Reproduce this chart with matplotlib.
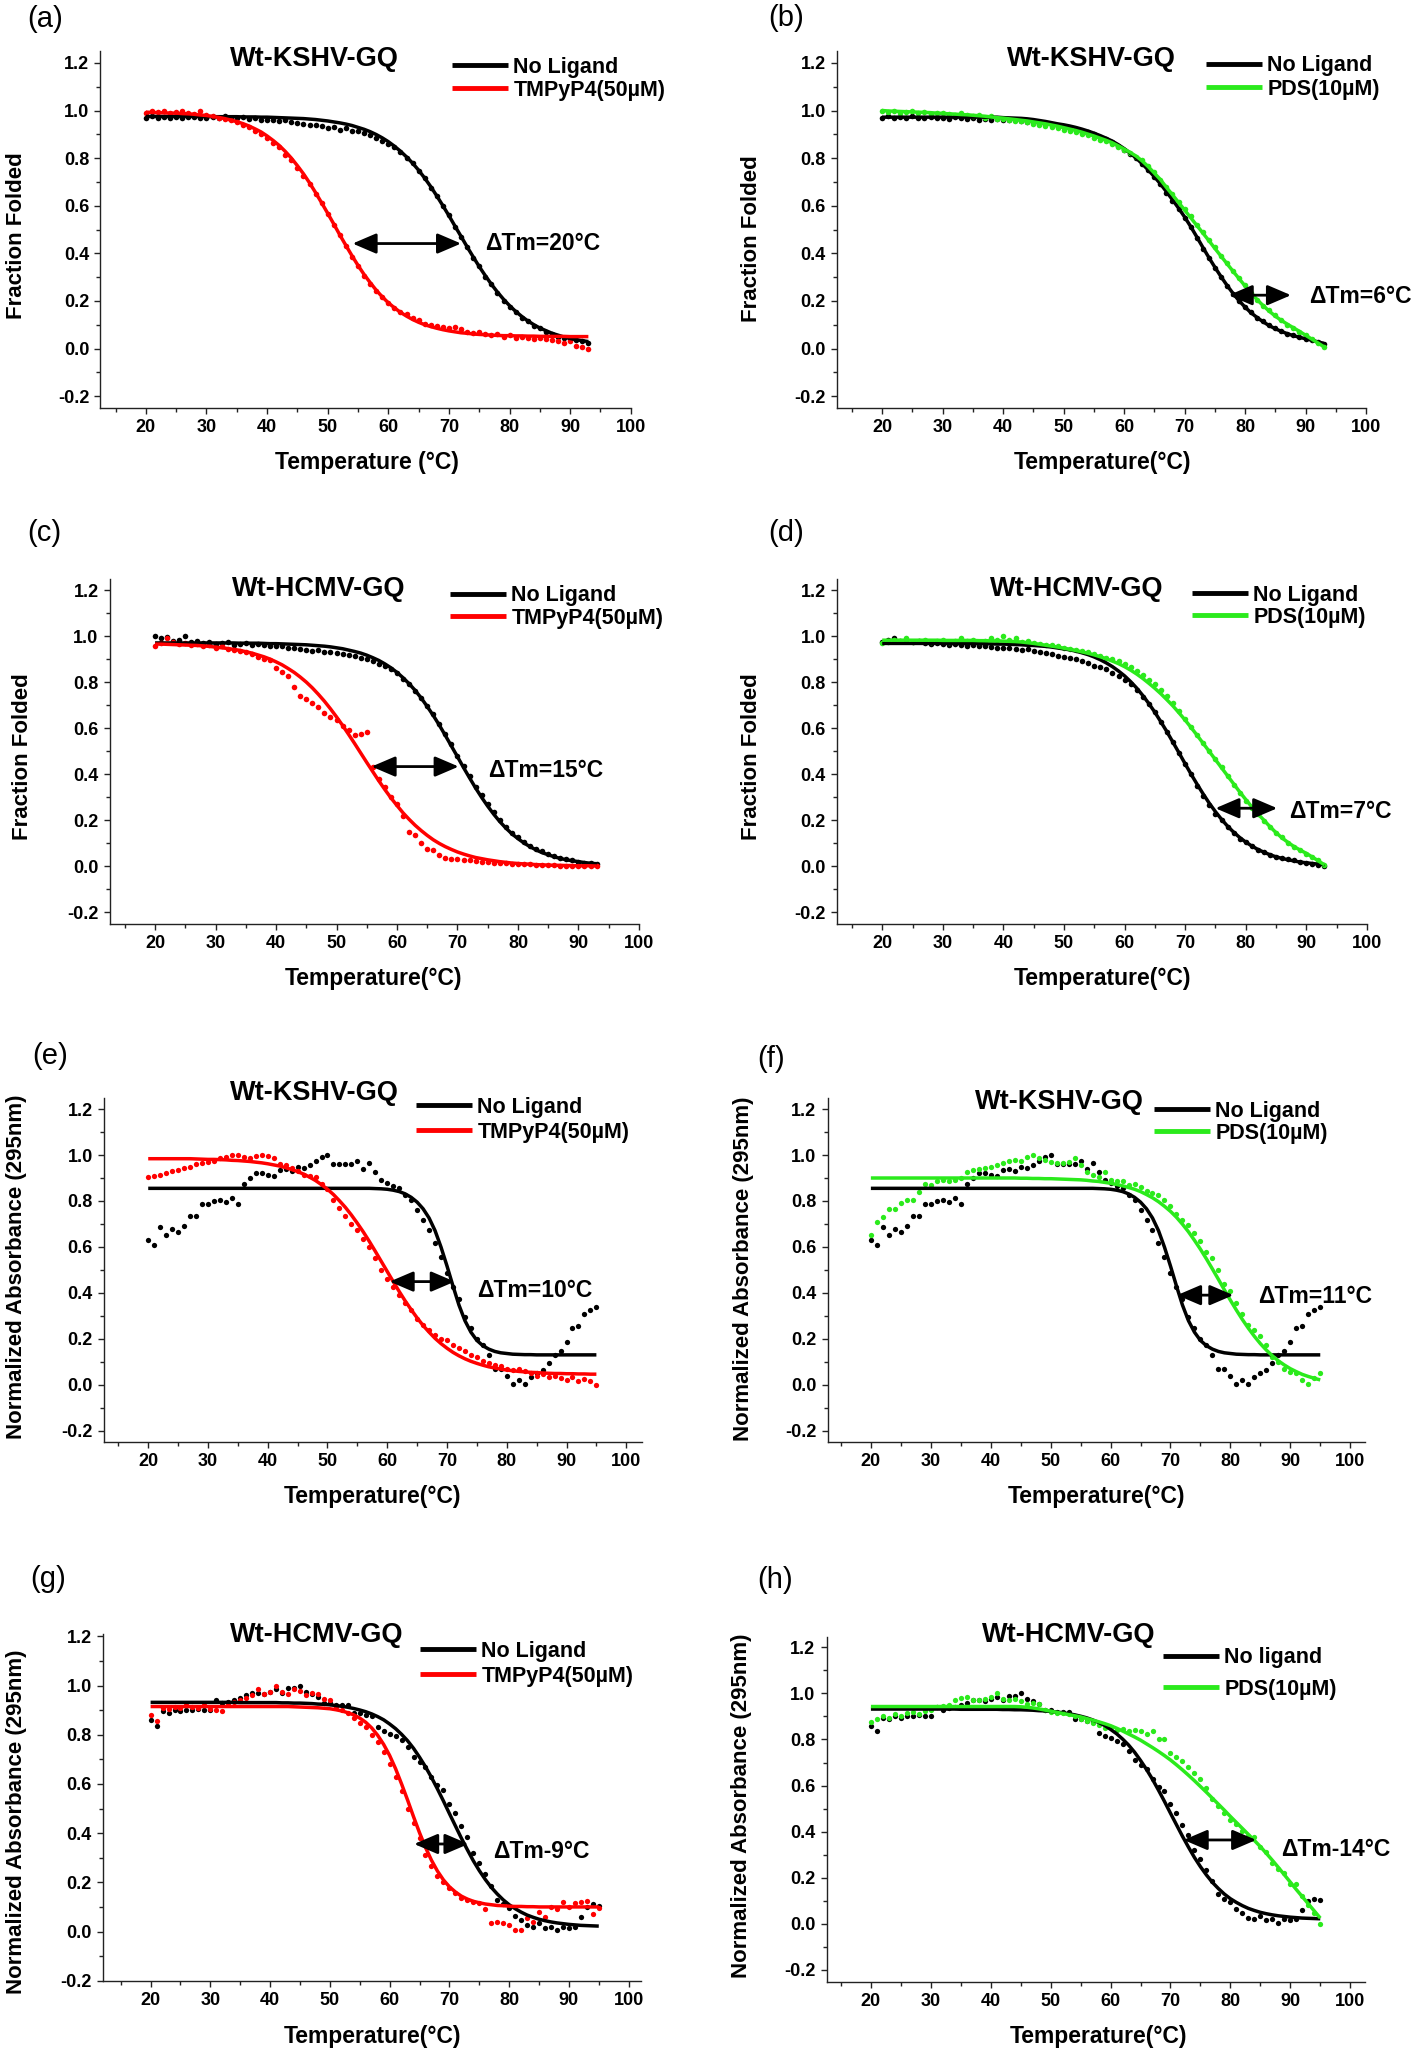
import matplotlib
matplotlib.use('Agg')
import matplotlib.pyplot as plt
from matplotlib.patches import ArrowStyle

plt.rcParams['font.family'] = ['Liberation Sans', 'DejaVu Sans']
plt.rcParams['axes.linewidth'] = 1.0

# ---------------- data ----------------
temps_cd = list(range(20, 94))     # CD panels (a)-(d): 20..93 C
temps_uv = list(range(20, 96))     # UV panels (e)-(h): 20..95 C

x_major = [20, 30, 40, 50, 60, 70, 80, 90, 100]
x_minor = [15, 25, 35, 45, 55, 65, 75, 85, 95]
y_major = [-0.2, 0.0, 0.2, 0.4, 0.6, 0.8, 1.0, 1.2]
y_major_labels = ['-0.2', '0.0', '0.2', '0.4', '0.6', '0.8', '1.0', '1.2']
y_minor = [-0.1, 0.1, 0.3, 0.5, 0.7, 0.9, 1.1]

# (a) KSHV, TMPyP4
a_black_fit = [0.975, 0.975, 0.975, 0.975, 0.975, 0.975, 0.975, 0.975, 0.975, 0.975,
               0.974, 0.974, 0.974, 0.974, 0.974, 0.974, 0.973, 0.973, 0.973, 0.972,
               0.972, 0.971, 0.970, 0.969, 0.968, 0.967, 0.966, 0.964, 0.962, 0.959,
               0.956, 0.952, 0.948, 0.943, 0.937, 0.929, 0.921, 0.911, 0.899, 0.885,
               0.869, 0.850, 0.829, 0.805, 0.779, 0.749, 0.716, 0.680, 0.641, 0.600,
               0.558, 0.514, 0.471, 0.427, 0.385, 0.344, 0.306, 0.270, 0.237, 0.207,
               0.180, 0.156, 0.135, 0.116, 0.100, 0.086, 0.075, 0.064, 0.056, 0.048,
               0.042, 0.037, 0.033, 0.029]
a_black_pts = [0.97, 0.975, 0.968, 0.972, 0.97, 0.974, 0.969, 0.971, 0.973, 0.97,
               0.968, 0.972, 0.97, 0.975, 0.966, 0.97, 0.973, 0.965, 0.968, 0.962,
               0.96, 0.962, 0.955, 0.958, 0.95, 0.948, 0.945, 0.94, 0.938, 0.935,
               0.925, 0.93, 0.92, 0.925, 0.915, 0.912, 0.905, 0.895, 0.885, 0.872,
               0.86, 0.845, 0.825, 0.8, 0.78, 0.745, 0.715, 0.675, 0.64, 0.6,
               0.56, 0.51, 0.47, 0.425, 0.38, 0.345, 0.3, 0.27, 0.235, 0.2,
               0.175, 0.155, 0.13, 0.115, 0.095, 0.085, 0.07, 0.062, 0.05, 0.045,
               0.04, 0.035, 0.03, 0.025]
a_red_fit = [0.993, 0.992, 0.991, 0.990, 0.989, 0.989, 0.987, 0.986, 0.984, 0.981,
             0.979, 0.975, 0.971, 0.966, 0.960, 0.953, 0.945, 0.935, 0.923, 0.910,
             0.893, 0.874, 0.853, 0.828, 0.800, 0.768, 0.734, 0.696, 0.655, 0.612,
             0.568, 0.523, 0.477, 0.433, 0.390, 0.349, 0.311, 0.277, 0.245, 0.217,
             0.192, 0.171, 0.152, 0.136, 0.122, 0.110, 0.100, 0.092, 0.085, 0.079,
             0.074, 0.070, 0.066, 0.064, 0.061, 0.059, 0.058, 0.056, 0.055, 0.054,
             0.054, 0.053, 0.053, 0.052, 0.052, 0.051, 0.051, 0.051, 0.051, 0.051,
             0.050, 0.050, 0.050, 0.050]
a_red_pts = [0.99, 1.0, 0.995, 1.0, 0.99, 0.995, 1.0, 0.99, 0.985, 1.0,
             0.98, 0.975, 0.97, 0.965, 0.96, 0.95, 0.94, 0.93, 0.915, 0.9,
             0.885, 0.865, 0.845, 0.815, 0.79, 0.76, 0.725, 0.69, 0.65, 0.61,
             0.565, 0.52, 0.475, 0.43, 0.385, 0.345, 0.305, 0.27, 0.24, 0.215,
             0.19, 0.17, 0.155, 0.145, 0.13, 0.12, 0.105, 0.1, 0.095, 0.09,
             0.085, 0.09, 0.08, 0.07, 0.065, 0.07, 0.06, 0.055, 0.06, 0.05,
             0.055, 0.045, 0.05, 0.045, 0.04, 0.045, 0.04, 0.035, 0.03, 0.025,
             0.03, 0.01, 0.005, 0.0]

# (b) KSHV, PDS
b_black_fit = [0.972, 0.972, 0.972, 0.972, 0.972, 0.972, 0.972, 0.972, 0.972, 0.972,
               0.972, 0.972, 0.972, 0.972, 0.972, 0.972, 0.972, 0.972, 0.972, 0.972,
               0.970, 0.969, 0.968, 0.967, 0.965, 0.962, 0.958, 0.954, 0.949, 0.944,
               0.940, 0.935, 0.929, 0.922, 0.914, 0.905, 0.895, 0.884, 0.872, 0.857,
               0.840, 0.821, 0.800, 0.776, 0.750, 0.722, 0.692, 0.659, 0.625, 0.590,
               0.553, 0.513, 0.470, 0.426, 0.383, 0.342, 0.303, 0.266, 0.232, 0.201,
               0.174, 0.150, 0.130, 0.112, 0.096, 0.083, 0.072, 0.062, 0.054, 0.047,
               0.041, 0.035, 0.028, 0.022]
b_black_pts = [0.97, 0.975, 0.968, 0.972, 0.97, 0.975, 0.969, 0.97, 0.974, 0.968,
               0.97, 0.966, 0.972, 0.968, 0.965, 0.97, 0.962, 0.966, 0.96, 0.965,
               0.962, 0.958, 0.96, 0.955, 0.952, 0.95, 0.945, 0.942, 0.94, 0.935,
               0.93, 0.928, 0.922, 0.915, 0.908, 0.9, 0.89, 0.88, 0.868, 0.852,
               0.835, 0.818, 0.8, 0.775, 0.75, 0.72, 0.69, 0.655, 0.62, 0.585,
               0.548, 0.51, 0.465, 0.42, 0.38, 0.34, 0.3, 0.262, 0.23, 0.2,
               0.175, 0.152, 0.13, 0.115, 0.098, 0.085, 0.075, 0.062, 0.055, 0.048,
               0.04, 0.035, 0.028, 0.02]
b_green_fit = [1.000, 0.998, 0.997, 0.996, 0.995, 0.994, 0.993, 0.992, 0.991, 0.989,
               0.988, 0.986, 0.985, 0.983, 0.982, 0.980, 0.978, 0.976, 0.973, 0.970,
               0.968, 0.965, 0.962, 0.959, 0.956, 0.952, 0.948, 0.944, 0.939, 0.934,
               0.928, 0.922, 0.916, 0.909, 0.901, 0.893, 0.884, 0.875, 0.865, 0.852,
               0.838, 0.824, 0.808, 0.788, 0.764, 0.737, 0.710, 0.677, 0.646, 0.614,
               0.582, 0.550, 0.518, 0.486, 0.454, 0.421, 0.389, 0.357, 0.325, 0.294,
               0.263, 0.233, 0.205, 0.180, 0.157, 0.136, 0.118, 0.102, 0.087, 0.072,
               0.056, 0.040, 0.024, 0.008]
b_green_pts = [1.0, 0.995, 1.0, 0.99, 0.995, 1.0, 0.99, 0.995, 0.985, 0.99,
               0.99, 0.985, 0.98, 0.99, 0.98, 0.975, 0.98, 0.97, 0.975, 0.965,
               0.965, 0.96, 0.955, 0.955, 0.95, 0.945, 0.94, 0.935, 0.93, 0.925,
               0.92, 0.915, 0.91, 0.9, 0.895, 0.885, 0.878, 0.87, 0.86, 0.848,
               0.835, 0.82, 0.805, 0.79, 0.765, 0.74, 0.71, 0.68, 0.65, 0.615,
               0.585, 0.555, 0.52, 0.49, 0.455, 0.425, 0.39, 0.36, 0.325, 0.295,
               0.265, 0.235, 0.205, 0.18, 0.16, 0.14, 0.12, 0.1, 0.085, 0.07,
               0.055, 0.04, 0.025, 0.005]

# (c) HCMV, TMPyP4
c_black_fit = [0.970, 0.970, 0.970, 0.970, 0.970, 0.970, 0.970, 0.970, 0.970, 0.970,
               0.970, 0.970, 0.970, 0.970, 0.969, 0.969, 0.969, 0.969, 0.968, 0.967,
               0.967, 0.966, 0.965, 0.964, 0.963, 0.962, 0.960, 0.958, 0.956, 0.953,
               0.949, 0.945, 0.939, 0.933, 0.926, 0.917, 0.906, 0.894, 0.879, 0.862,
               0.842, 0.819, 0.793, 0.764, 0.731, 0.694, 0.655, 0.613, 0.568, 0.522,
               0.476, 0.429, 0.384, 0.340, 0.299, 0.261, 0.226, 0.194, 0.166, 0.141,
               0.120, 0.101, 0.085, 0.071, 0.059, 0.050, 0.041, 0.034, 0.028, 0.024,
               0.020, 0.016, 0.013, 0.011]
c_black_pts = [1.0, 0.99, 0.995, 0.98, 0.985, 1.0, 0.975, 0.98, 0.97, 0.975,
               0.965, 0.97, 0.975, 0.96, 0.965, 0.97, 0.96, 0.965, 0.96, 0.955,
               0.958, 0.955, 0.95, 0.948, 0.945, 0.94, 0.935, 0.938, 0.93, 0.932,
               0.925, 0.92, 0.918, 0.915, 0.905, 0.9, 0.89, 0.88, 0.868, 0.855,
               0.838, 0.815, 0.79, 0.76, 0.73, 0.695, 0.66, 0.62, 0.575, 0.53,
               0.48, 0.435, 0.39, 0.345, 0.31, 0.27, 0.235, 0.2, 0.17, 0.145,
               0.125, 0.105, 0.09, 0.075, 0.065, 0.052, 0.045, 0.038, 0.03, 0.025,
               0.02, 0.015, 0.012, 0.008]
c_red_fit = [0.965, 0.965, 0.964, 0.963, 0.962, 0.961, 0.960, 0.959, 0.957, 0.955,
             0.952, 0.949, 0.946, 0.942, 0.938, 0.932, 0.926, 0.918, 0.910, 0.900,
             0.888, 0.875, 0.859, 0.842, 0.822, 0.800, 0.775, 0.747, 0.717, 0.684,
             0.649, 0.612, 0.573, 0.533, 0.492, 0.451, 0.411, 0.371, 0.333, 0.297,
             0.264, 0.232, 0.204, 0.178, 0.155, 0.134, 0.115, 0.099, 0.085, 0.073,
             0.062, 0.053, 0.045, 0.038, 0.033, 0.028, 0.024, 0.020, 0.017, 0.014,
             0.012, 0.010, 0.009, 0.007, 0.006, 0.005, 0.004, 0.004, 0.003, 0.003,
             0.002, 0.002, 0.002, 0.001]
c_red_pts = [0.955, 0.97, 0.99, 0.975, 0.965, 0.97, 0.96, 0.965, 0.955, 0.96,
             0.95, 0.955, 0.945, 0.94, 0.935, 0.93, 0.92, 0.91, 0.9, 0.895,
             0.86, 0.845, 0.825, 0.78, 0.74, 0.725, 0.71, 0.69, 0.665, 0.65,
             0.635, 0.61, 0.59, 0.57, 0.575, 0.585, 0.43, 0.38, 0.345, 0.3,
             0.27, 0.22, 0.15, 0.135, 0.1, 0.075, 0.07, 0.05, 0.035, 0.032,
             0.03, 0.028, 0.025, 0.022, 0.02, 0.018, 0.015, 0.012, 0.012, 0.01,
             0.01, 0.008, 0.008, 0.006, 0.005, 0.005, 0.004, 0.003, 0.003, 0.002,
             0.002, 0.0, 0.002, 0.0]

# (d) HCMV, PDS
d_black_fit = [0.968, 0.968, 0.968, 0.968, 0.968, 0.968, 0.968, 0.968, 0.968, 0.968,
               0.968, 0.968, 0.967, 0.967, 0.967, 0.967, 0.967, 0.966, 0.966, 0.965,
               0.965, 0.964, 0.963, 0.962, 0.960, 0.959, 0.957, 0.955, 0.952, 0.948,
               0.944, 0.940, 0.934, 0.927, 0.919, 0.909, 0.897, 0.883, 0.867, 0.848,
               0.827, 0.802, 0.774, 0.742, 0.707, 0.669, 0.627, 0.584, 0.538, 0.492,
               0.445, 0.399, 0.355, 0.313, 0.273, 0.237, 0.204, 0.174, 0.148, 0.125,
               0.105, 0.088, 0.073, 0.061, 0.050, 0.041, 0.034, 0.028, 0.023, 0.018,
               0.015, 0.012, 0.009, 0.007]
d_black_pts = [0.975, 0.985, 0.99, 0.98, 0.985, 0.975, 0.98, 0.97, 0.965, 0.97,
               0.965, 0.96, 0.965, 0.96, 0.958, 0.962, 0.955, 0.958, 0.952, 0.95,
               0.948, 0.95, 0.945, 0.94, 0.942, 0.935, 0.93, 0.928, 0.92, 0.915,
               0.91, 0.905, 0.9, 0.89, 0.885, 0.87, 0.865, 0.855, 0.84, 0.825,
               0.81, 0.79, 0.765, 0.735, 0.705, 0.67, 0.625, 0.585, 0.54, 0.49,
               0.445, 0.4, 0.35, 0.305, 0.265, 0.225, 0.2, 0.17, 0.145, 0.12,
               0.105, 0.09, 0.07, 0.06, 0.048, 0.042, 0.035, 0.03, 0.025, 0.02,
               0.015, 0.01, 0.005, 0.0]
d_green_fit = [0.982, 0.982, 0.982, 0.982, 0.982, 0.982, 0.982, 0.982, 0.982, 0.982,
               0.981, 0.981, 0.981, 0.981, 0.981, 0.981, 0.980, 0.980, 0.979, 0.979,
               0.978, 0.977, 0.976, 0.974, 0.971, 0.968, 0.964, 0.960, 0.956, 0.952,
               0.947, 0.942, 0.937, 0.931, 0.925, 0.918, 0.910, 0.901, 0.891, 0.880,
               0.867, 0.852, 0.835, 0.816, 0.795, 0.773, 0.749, 0.723, 0.696, 0.666,
               0.635, 0.602, 0.568, 0.533, 0.498, 0.463, 0.428, 0.393, 0.358, 0.323,
               0.290, 0.258, 0.228, 0.200, 0.172, 0.146, 0.123, 0.103, 0.085, 0.070,
               0.056, 0.040, 0.023, 0.006]
d_green_pts = [0.97, 0.975, 0.985, 0.98, 0.99, 0.975, 0.98, 0.985, 0.975, 0.98,
               0.985, 0.975, 0.98, 0.99, 0.98, 0.985, 0.975, 0.98, 0.99, 0.985,
               1.0, 0.985, 0.99, 0.975, 0.98, 0.97, 0.965, 0.96, 0.96, 0.955,
               0.95, 0.945, 0.94, 0.935, 0.93, 0.92, 0.915, 0.905, 0.9, 0.89,
               0.88, 0.865, 0.85, 0.83, 0.81, 0.79, 0.765, 0.74, 0.71, 0.675,
               0.64, 0.605, 0.57, 0.535, 0.5, 0.465, 0.43, 0.39, 0.355, 0.32,
               0.285, 0.255, 0.225, 0.195, 0.17, 0.145, 0.125, 0.1, 0.085, 0.07,
               0.055, 0.04, 0.025, 0.005]

# (e)/(f) KSHV no ligand, absorbance at 295 nm
kshv_abs_black_fit = [0.855, 0.855, 0.855, 0.855, 0.855, 0.855, 0.855, 0.855, 0.855, 0.855,
                      0.855, 0.855, 0.855, 0.855, 0.855, 0.855, 0.855, 0.855, 0.855, 0.855,
                      0.855, 0.855, 0.855, 0.855, 0.855, 0.855, 0.855, 0.855, 0.855, 0.855,
                      0.855, 0.855, 0.855, 0.855, 0.855, 0.855, 0.855, 0.855, 0.854, 0.853,
                      0.851, 0.847, 0.841, 0.831, 0.816, 0.795, 0.766, 0.726, 0.671, 0.599,
                      0.517, 0.430, 0.347, 0.279, 0.229, 0.193, 0.170, 0.155, 0.145, 0.139,
                      0.136, 0.133, 0.132, 0.131, 0.131, 0.130, 0.130, 0.130, 0.130, 0.130,
                      0.130, 0.130, 0.130, 0.130, 0.130, 0.130]
kshv_abs_black_pts = [0.63, 0.61, 0.685, 0.65, 0.68, 0.665, 0.69, 0.735, 0.735, 0.785,
                      0.785, 0.8, 0.805, 0.795, 0.815, 0.785, 0.875, 0.9, 0.92, 0.92,
                      0.915, 0.91, 0.935, 0.94, 0.93, 0.95, 0.945, 0.955, 0.975, 0.99,
                      1.0, 0.96, 0.96, 0.96, 0.96, 0.975, 0.94, 0.965, 0.925, 0.89,
                      0.88, 0.865, 0.855, 0.825, 0.805, 0.76, 0.715, 0.675, 0.615, 0.555,
                      0.485, 0.425, 0.375, 0.295, 0.245, 0.2, 0.175, 0.13, 0.07, 0.07,
                      0.04, 0.005, 0.02, 0.005, 0.035, 0.05, 0.065, 0.095, 0.13, 0.145,
                      0.185, 0.245, 0.255, 0.31, 0.325, 0.34]
e_red_fit = [0.984, 0.984, 0.984, 0.984, 0.984, 0.984, 0.984, 0.984, 0.983, 0.982,
             0.981, 0.981, 0.980, 0.979, 0.977, 0.976, 0.974, 0.972, 0.969, 0.966,
             0.962, 0.957, 0.952, 0.945, 0.937, 0.928, 0.917, 0.904, 0.889, 0.871,
             0.851, 0.828, 0.801, 0.772, 0.739, 0.703, 0.665, 0.624, 0.581, 0.537,
             0.493, 0.449, 0.406, 0.365, 0.327, 0.291, 0.258, 0.229, 0.202, 0.179,
             0.159, 0.141, 0.126, 0.113, 0.102, 0.093, 0.085, 0.078, 0.073, 0.068,
             0.064, 0.061, 0.058, 0.056, 0.054, 0.053, 0.051, 0.050, 0.049, 0.049,
             0.048, 0.048, 0.047, 0.047, 0.046, 0.046]
e_red_pts = [0.905, 0.91, 0.915, 0.92, 0.93, 0.935, 0.945, 0.95, 0.96, 0.965,
             0.97, 0.975, 0.985, 0.99, 1.0, 1.0, 0.99, 0.985, 0.995, 1.0,
             0.995, 0.985, 0.96, 0.955, 0.945, 0.93, 0.915, 0.91, 0.905, 0.875,
             0.85, 0.805, 0.77, 0.735, 0.7, 0.675, 0.635, 0.6, 0.55, 0.5,
             0.46, 0.425, 0.39, 0.355, 0.325, 0.285, 0.26, 0.24, 0.215, 0.2,
             0.195, 0.175, 0.16, 0.145, 0.13, 0.12, 0.105, 0.095, 0.085, 0.08,
             0.07, 0.065, 0.07, 0.06, 0.05, 0.04, 0.045, 0.035, 0.04, 0.03,
             0.02, 0.035, 0.015, 0.025, 0.015, 0.0]

# (f) KSHV, PDS
f_green_fit = [0.900, 0.900, 0.900, 0.900, 0.900, 0.900, 0.900, 0.900, 0.900, 0.900,
               0.900, 0.900, 0.900, 0.900, 0.900, 0.900, 0.900, 0.900, 0.900, 0.900,
               0.900, 0.900, 0.900, 0.900, 0.900, 0.899, 0.899, 0.898, 0.898, 0.897,
               0.897, 0.896, 0.895, 0.894, 0.893, 0.892, 0.890, 0.887, 0.885, 0.881,
               0.877, 0.872, 0.866, 0.859, 0.851, 0.841, 0.828, 0.814, 0.797, 0.777,
               0.755, 0.729, 0.699, 0.666, 0.629, 0.590, 0.548, 0.504, 0.459, 0.413,
               0.368, 0.325, 0.284, 0.246, 0.211, 0.179, 0.151, 0.126, 0.104, 0.086,
               0.070, 0.057, 0.045, 0.036, 0.028, 0.021]
f_green_pts = [0.65, 0.71, 0.73, 0.765, 0.765, 0.79, 0.805, 0.805, 0.84, 0.875,
               0.87, 0.885, 0.89, 0.885, 0.89, 0.9, 0.925, 0.935, 0.94, 0.945,
               0.95, 0.955, 0.965, 0.975, 0.98, 0.975, 0.99, 1.0, 0.985, 0.98,
               0.97, 0.965, 0.965, 0.97, 0.985, 0.955, 0.925, 0.915, 0.905, 0.925,
               0.89, 0.885, 0.885, 0.87, 0.875, 0.86, 0.845, 0.835, 0.825, 0.805,
               0.78, 0.745, 0.715, 0.695, 0.66, 0.625, 0.58, 0.55, 0.5, 0.44,
               0.41, 0.355, 0.31, 0.26, 0.24, 0.21, 0.175, 0.12, 0.1, 0.07,
               0.055, 0.05, 0.02, 0.005, 0.03, 0.05]

# (g)/(h) HCMV no ligand, absorbance at 295 nm
hcmv_abs_black_fit = [0.932, 0.932, 0.932, 0.932, 0.932, 0.932, 0.932, 0.932, 0.932, 0.932,
                      0.932, 0.932, 0.932, 0.932, 0.932, 0.931, 0.931, 0.931, 0.931, 0.931,
                      0.931, 0.931, 0.930, 0.930, 0.929, 0.929, 0.928, 0.927, 0.925, 0.924,
                      0.922, 0.919, 0.916, 0.912, 0.907, 0.901, 0.894, 0.885, 0.874, 0.861,
                      0.844, 0.825, 0.802, 0.776, 0.745, 0.709, 0.670, 0.627, 0.580, 0.531,
                      0.480, 0.430, 0.380, 0.333, 0.288, 0.248, 0.212, 0.180, 0.153, 0.129,
                      0.109, 0.093, 0.079, 0.067, 0.058, 0.050, 0.044, 0.039, 0.035, 0.032,
                      0.029, 0.027, 0.025, 0.024, 0.023, 0.022]
hcmv_abs_black_pts = [0.86, 0.835, 0.895, 0.89, 0.9, 0.895, 0.9, 0.9, 0.905, 0.9,
                      0.9, 0.94, 0.93, 0.935, 0.94, 0.95, 0.96, 0.97, 0.97, 0.965,
                      0.975, 0.985, 0.97, 0.99, 0.99, 1.0, 0.975, 0.965, 0.955, 0.93,
                      0.93, 0.92, 0.92, 0.92, 0.89, 0.89, 0.88, 0.875, 0.83, 0.815,
                      0.805, 0.795, 0.78, 0.75, 0.71, 0.69, 0.67, 0.63, 0.595, 0.575,
                      0.52, 0.48, 0.43, 0.385, 0.32, 0.28, 0.235, 0.185, 0.13, 0.11,
                      0.095, 0.065, 0.045, 0.025, 0.02, 0.035, 0.015, 0.02, 0.005, 0.02,
                      0.015, 0.02, 0.06, 0.1, 0.11, 0.105]
g_red_fit = [0.915, 0.915, 0.915, 0.915, 0.915, 0.915, 0.915, 0.915, 0.915, 0.915,
             0.915, 0.915, 0.915, 0.915, 0.915, 0.915, 0.915, 0.915, 0.915, 0.915,
             0.915, 0.915, 0.915, 0.915, 0.914, 0.913, 0.912, 0.911, 0.910, 0.908,
             0.906, 0.902, 0.897, 0.890, 0.881, 0.868, 0.851, 0.828, 0.798, 0.761,
             0.716, 0.662, 0.600, 0.535, 0.467, 0.402, 0.342, 0.290, 0.246, 0.210,
             0.182, 0.161, 0.144, 0.132, 0.123, 0.117, 0.112, 0.109, 0.106, 0.105,
             0.103, 0.102, 0.102, 0.101, 0.101, 0.100, 0.100, 0.100, 0.100, 0.100,
             0.100, 0.100, 0.100, 0.100, 0.100, 0.100]
g_red_pts = [0.88, 0.855, 0.91, 0.905, 0.915, 0.91, 0.92, 0.915, 0.91, 0.92,
             0.905, 0.9, 0.895, 0.93, 0.935, 0.94, 0.95, 0.96, 0.985, 0.965,
             0.975, 1.0, 0.975, 0.965, 0.985, 0.98, 0.96, 0.97, 0.965, 0.945,
             0.94, 0.915, 0.9, 0.89, 0.87, 0.85, 0.83, 0.8, 0.77, 0.73,
             0.68, 0.63, 0.57, 0.5, 0.44, 0.38, 0.31, 0.265, 0.225, 0.2,
             0.175, 0.155, 0.135, 0.13, 0.12, 0.115, 0.09, 0.035, 0.04, 0.035,
             0.025, 0.005, 0.005, 0.055, 0.04, 0.08, 0.06, 0.1, 0.09, 0.12,
             0.1, 0.115, 0.12, 0.125, 0.07, 0.095]

# (h) HCMV, PDS
h_green_fit = [0.943, 0.943, 0.943, 0.943, 0.943, 0.943, 0.943, 0.943, 0.943, 0.943,
               0.943, 0.943, 0.943, 0.943, 0.943, 0.943, 0.943, 0.943, 0.943, 0.943,
               0.943, 0.943, 0.943, 0.943, 0.943, 0.942, 0.940, 0.937, 0.933, 0.928,
               0.923, 0.918, 0.913, 0.908, 0.903, 0.898, 0.891, 0.884, 0.877, 0.869,
               0.860, 0.849, 0.837, 0.824, 0.811, 0.797, 0.781, 0.765, 0.748, 0.730,
               0.711, 0.690, 0.668, 0.645, 0.621, 0.596, 0.571, 0.545, 0.519, 0.493,
               0.466, 0.440, 0.414, 0.388, 0.362, 0.335, 0.306, 0.276, 0.245, 0.213,
               0.181, 0.149, 0.118, 0.087, 0.056, 0.025]
h_green_pts = [0.875, 0.89, 0.9, 0.895, 0.91, 0.9, 0.915, 0.92, 0.91, 0.925,
               0.93, 0.94, 0.945, 0.95, 0.97, 0.98, 0.985, 0.97, 0.97, 0.975,
               0.985, 1.0, 0.975, 0.97, 0.975, 0.965, 0.955, 0.96, 0.955, 0.93,
               0.92, 0.915, 0.915, 0.91, 0.9, 0.89, 0.88, 0.87, 0.865, 0.85,
               0.855, 0.84, 0.845, 0.835, 0.84, 0.835, 0.825, 0.835, 0.8, 0.8,
               0.74, 0.725, 0.705, 0.68, 0.655, 0.63, 0.59, 0.54, 0.51, 0.48,
               0.45, 0.435, 0.405, 0.38, 0.375, 0.335, 0.31, 0.265, 0.24, 0.22,
               0.175, 0.175, 0.12, 0.08, 0.045, 0.0]

# ---------------- figure ----------------
W, H = 1418, 2053
fig = plt.figure(figsize=(W / 100, H / 100), dpi=100)
fig.patch.set_facecolor('white')

RED = '#ff0000'
GREEN = '#2bea1c'
BLACK = '#000000'


def fx(px):
    return px / W


def fy(py):
    return 1 - py / H


T_LABEL_A = 'Temperature (°C)'
T_LABEL = 'Temperature(°C)'
FF = 'Fraction Folded'
NA = 'Normalized Absorbance (295nm)'

panels = [
    dict(tag='(a)', tag_xy=(27, 19), box=(100.4, 51, 630.8, 408), xlim=(12.5, 100), ylim=(-0.25, 1.25),
         temps=temps_cd, ms=4.0, series=[(a_black_pts, a_black_fit, BLACK, 'No Ligand'),
                                         (a_red_pts, a_red_fit, RED, 'TMPyP4(50µM)')],
         title='Wt-KSHV-GQ', title_xy=(314, 59), leg_xy=(452, 56.5), leg_ls=0.1,
         arrow=(54.1, 72.0, 0.441), dtm=(76.0, 0.44, 'ΔTm=20°C'),
         ylabel=FF, ylabel_xy=(17, 236), xlabel=T_LABEL_A, xlabel_xy=(367, 463)),
    dict(tag='(b)', tag_xy=(768, 18), box=(836.8, 51, 1366, 408), xlim=(12.5, 100), ylim=(-0.25, 1.25),
         temps=temps_cd, ms=4.0, series=[(b_black_pts, b_black_fit, BLACK, 'No Ligand'),
                                         (b_green_pts, b_green_fit, GREEN, 'PDS(10µM)')],
         title='Wt-KSHV-GQ', title_xy=(1091, 59), leg_xy=(1206, 55.5), leg_ls=0.1,
         arrow=(77.3, 87.6, 0.224), dtm=(90.6, 0.22, 'ΔTm=6°C'),
         ylabel=FF, ylabel_xy=(752, 239), xlabel=T_LABEL, xlabel_xy=(1102, 463)),
    dict(tag='(c)', tag_xy=(27, 533), box=(109.7, 578.5, 638.9, 923.8), xlim=(12.5, 100), ylim=(-0.25, 1.25),
         temps=temps_cd, ms=4.0, series=[(c_black_pts, c_black_fit, BLACK, 'No Ligand'),
                                         (c_red_pts, c_red_fit, RED, 'TMPyP4(50µM)')],
         title='Wt-HCMV-GQ', title_xy=(319, 589), leg_xy=(450, 585.5), leg_ls=0.06,
         arrow=(55.8, 70.2, 0.433), dtm=(75.1, 0.418, 'ΔTm=15°C'),
         ylabel=FF, ylabel_xy=(23, 757), xlabel=T_LABEL, xlabel_xy=(374, 979)),
    dict(tag='(d)', tag_xy=(768, 533), box=(836.8, 578.5, 1366.9, 923.8), xlim=(12.5, 100), ylim=(-0.25, 1.25),
         temps=temps_cd, ms=4.0, series=[(d_black_pts, d_black_fit, BLACK, 'No Ligand'),
                                         (d_green_pts, d_green_fit, GREEN, 'PDS(10µM)')],
         title='Wt-HCMV-GQ', title_xy=(1077, 589), leg_xy=(1192, 584.5), leg_ls=0.06,
         arrow=(75.0, 85.2, 0.252), dtm=(87.2, 0.237, 'ΔTm=7°C'),
         ylabel=FF, ylabel_xy=(752, 757), xlabel=T_LABEL, xlabel_xy=(1102, 979)),
    dict(tag='(e)', tag_xy=(32, 1056), box=(104, 1098.3, 642.1, 1441.7), xlim=(12.6, 102.65), ylim=(-0.248, 1.247),
         temps=temps_uv, ms=3.8, series=[(kshv_abs_black_pts, kshv_abs_black_fit, BLACK, 'No Ligand'),
                                         (e_red_pts, e_red_fit, RED, 'TMPyP4(50µM)')],
         title='Wt-KSHV-GQ', title_xy=(314, 1093), leg_xy=(416, 1096.5), leg_ls=0.2,
         arrow=(60.4, 71.3, 0.449), dtm=(75.0, 0.41, 'ΔTm=10°C'),
         ylabel=NA, ylabel_xy=(17, 1267), xlabel=T_LABEL, xlabel_xy=(373, 1497)),
    dict(tag='(f)', tag_xy=(757, 1059), box=(827.5, 1098.3, 1364.6, 1441.7), xlim=(12.76, 102.4), ylim=(-0.248, 1.247),
         temps=temps_uv, ms=3.8, series=[(kshv_abs_black_pts, kshv_abs_black_fit, BLACK, 'No Ligand'),
                                         (f_green_pts, f_green_fit, GREEN, 'PDS(10µM)')],
         title='Wt-KSHV-GQ', title_xy=(1059, 1102), leg_xy=(1154, 1100.5), leg_ls=0.06,
         arrow=(71.1, 80.5, 0.39), dtm=(84.7, 0.383, 'ΔTm=11°C'),
         ylabel=NA, ylabel_xy=(743, 1269), xlabel=T_LABEL, xlabel_xy=(1096, 1497)),
    dict(tag='(g)', tag_xy=(30, 1579), box=(103.1, 1634, 641.2, 1980.7), xlim=(12.05, 102.1), ylim=(-0.2, 1.21),
         temps=temps_uv, ms=3.8, series=[(hcmv_abs_black_pts, hcmv_abs_black_fit, BLACK, 'No Ligand'),
                                         (g_red_pts, g_red_fit, RED, 'TMPyP4(50µM)')],
         title='Wt-HCMV-GQ', title_xy=(317, 1635), leg_xy=(420, 1640.5), leg_ls=0.2,
         arrow=(64.1, 73.2, 0.356), dtm=(77.3, 0.325, 'ΔTm-9°C'),
         ylabel=NA, ylabel_xy=(17, 1822), xlabel=T_LABEL, xlabel_xy=(372, 2036)),
    dict(tag='(h)', tag_xy=(757, 1580), box=(826.6, 1636.7, 1364.6, 1981.7), xlim=(12.6, 102.4), ylim=(-0.251, 1.246),
         temps=temps_uv, ms=3.8, series=[(hcmv_abs_black_pts, hcmv_abs_black_fit, BLACK, 'No ligand'),
                                         (h_green_pts, h_green_fit, GREEN, 'PDS(10µM)')],
         title='Wt-HCMV-GQ', title_xy=(1069, 1635), leg_xy=(1163, 1647.5), leg_ls=0.48,
         arrow=(72.2, 84.3, 0.364), dtm=(88.5, 0.323, 'ΔTm-14°C'),
         ylabel=NA, ylabel_xy=(742, 1806), xlabel=T_LABEL, xlabel_xy=(1099, 2036)),
]

for p in panels:
    l, t, r, b = p['box']
    ax = fig.add_axes([fx(l), fy(b), (r - l) / W, (b - t) / H])
    ax.set_facecolor('white')
    T = p['temps']
    for pts, fit, col, lab in p['series']:
        ax.plot(T, pts, linestyle='none', marker='o', ms=p['ms'], mew=0, color=col, zorder=2)
    handles = []
    for pts, fit, col, lab in p['series']:
        ln, = ax.plot(T, fit, '-', lw=2.5, color=col, label=lab, zorder=3,
                      solid_capstyle='butt')
        handles.append(ln)

    ax.set_xlim(*p['xlim'])
    ax.set_ylim(*p['ylim'])
    ax.spines['top'].set_visible(False)
    ax.spines['right'].set_visible(False)
    for s in ('left', 'bottom'):
        ax.spines[s].set_color('#222222')
        ax.spines[s].set_linewidth(1.0)
    ax.set_xticks(x_major)
    ax.set_xticks(x_minor, minor=True)
    ax.set_yticks(y_major)
    ax.set_yticks(y_minor, minor=True)
    ax.set_xticklabels([str(v) for v in x_major], fontweight='bold', fontsize=13)
    ax.set_yticklabels(y_major_labels, fontweight='bold', fontsize=13)
    ax.tick_params(which='major', direction='out', length=4.5, width=1.0, color='#222222')
    ax.tick_params(which='minor', direction='out', length=3, width=1.0, color='#222222')
    ax.tick_params(axis='x', which='major', pad=3.5)
    ax.tick_params(axis='y', which='major', pad=3.5)

    x1, x2, ya = p['arrow']
    ax.annotate('', xy=(x2, ya), xytext=(x1, ya),
                arrowprops=dict(arrowstyle=ArrowStyle('<|-|>', head_length=1.45, head_width=0.62),
                                mutation_scale=10, lw=2.0, color='black',
                                shrinkA=0, shrinkB=0), zorder=5)
    dx, dy, dtxt = p['dtm']
    ax.text(dx, dy, dtxt, ha='left', va='center', fontsize=16.5, fontweight='bold', clip_on=False)

    leg = ax.legend(handles=handles, loc='upper left',
                    bbox_to_anchor=(fx(p['leg_xy'][0]), fy(p['leg_xy'][1])),
                    bbox_transform=fig.transFigure, frameon=False, borderpad=0,
                    borderaxespad=0, handlelength=2.6, handletextpad=0.25,
                    labelspacing=p['leg_ls'], prop=dict(weight='bold', size=15.5))
    for ln in leg.get_lines():
        ln.set_linewidth(3.5)

    fig.text(fx(p['title_xy'][0]), fy(p['title_xy'][1]), p['title'], ha='center', va='center',
             fontsize=19.5, fontweight='bold')
    fig.text(fx(p['ylabel_xy'][0]), fy(p['ylabel_xy'][1]), p['ylabel'], ha='center', va='center',
             rotation=90, fontsize=16, fontweight='bold')
    fig.text(fx(p['xlabel_xy'][0]), fy(p['xlabel_xy'][1]), p['xlabel'], ha='center', va='center',
             fontsize=16.5, fontweight='bold')
    fig.text(fx(p['tag_xy'][0]), fy(p['tag_xy'][1]), p['tag'], ha='left', va='center',
             fontsize=21)

fig.savefig('out.png', dpi=100, facecolor='white')
